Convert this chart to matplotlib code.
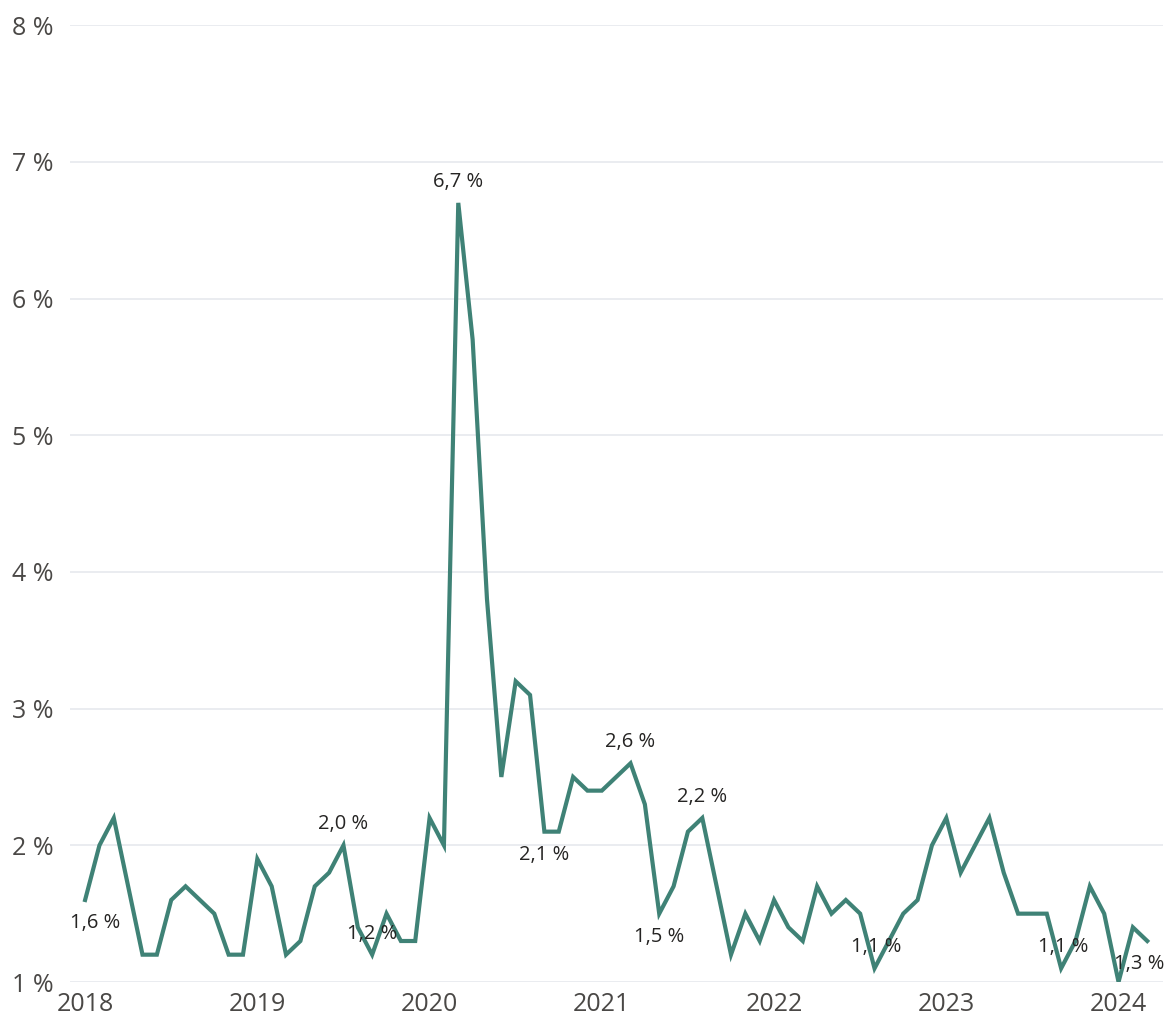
import numpy as np
import pandas as pd
import matplotlib
matplotlib.use("Agg")
import matplotlib.pyplot as plt

# monthly values, Jan 2018 - Mar 2024 (%)
months = pd.date_range("2018-01-01", periods=75, freq="MS")
values = [
    1.6, 2.0, 2.2, 1.7, 1.2, 1.2, 1.6, 1.7, 1.6, 1.5, 1.2, 1.2,   # 2018
    1.9, 1.7, 1.2, 1.3, 1.7, 1.8, 2.0, 1.4, 1.2, 1.5, 1.3, 1.3,   # 2019
    2.2, 2.0, 6.7, 5.7, 3.8, 2.5, 3.2, 3.1, 2.1, 2.1, 2.5, 2.4,   # 2020
    2.4, 2.5, 2.6, 2.3, 1.5, 1.7, 2.1, 2.2, 1.7, 1.2, 1.5, 1.3,   # 2021
    1.6, 1.4, 1.3, 1.7, 1.5, 1.6, 1.5, 1.1, 1.3, 1.5, 1.6, 2.0,   # 2022
    2.2, 1.8, 2.0, 2.2, 1.8, 1.5, 1.5, 1.5, 1.1, 1.3, 1.7, 1.5,   # 2023
    1.0, 1.4, 1.3,                                                # 2024
]
# which points get a data label, and where (above / below)
label_idx = [0, 18, 20, 26, 32, 38, 40, 43, 55, 68, 74]
label_pos = ["below", "above", "above", "above", "below", "above",
             "below", "above", "above", "above", "below"]
label_dx = [10, 0, 0, 0, 0, 0, 0, 0, 2, 2, -8]

years = [2018, 2019, 2020, 2021, 2022, 2023, 2024]
yticks = [1, 2, 3, 4, 5, 6, 7, 8]

plt.rcParams["font.family"] = ["Open Sans", "DejaVu Sans"]

fig = plt.figure(figsize=(11.67, 10.19), dpi=100)
ax = fig.add_axes([0.060, 0.0363, 0.9366, 0.939])

x = np.arange(len(values))
ax.plot(x, values, color="#3F8276", lw=3.0, solid_joinstyle="miter", zorder=3)

for i, pos, dx in zip(label_idx, label_pos, label_dx):
    dy = 21 if pos == "above" else -23
    ax.annotate(f"{values[i]:.1f} %".replace(".", ","), (x[i], values[i]),
                xytext=(dx * 0.72, dy * 0.72), textcoords="offset points",
                ha="center", va="center", fontsize=14.5, color="#252423", zorder=4)

ax.set_ylim(1, 8)
ax.set_yticks(yticks)
ax.set_yticklabels([f"{t} %" for t in yticks])
ax.set_xlim(-1.05, 75.1)
ax.set_xticks([months.get_loc(pd.Timestamp(f"{y}-01-01")) for y in years])
ax.set_xticklabels([str(y) for y in years])

ax.grid(axis="y", color="#E8EBEF", lw=1.3, zorder=0)
ax.grid(axis="x", visible=False)
for s in ax.spines.values():
    s.set_visible(False)
ax.tick_params(axis="both", length=0, labelsize=18, labelcolor="#4A4846")
ax.tick_params(axis="y", pad=12)
ax.tick_params(axis="x", pad=7)

fig.savefig("out.png", dpi=100)
